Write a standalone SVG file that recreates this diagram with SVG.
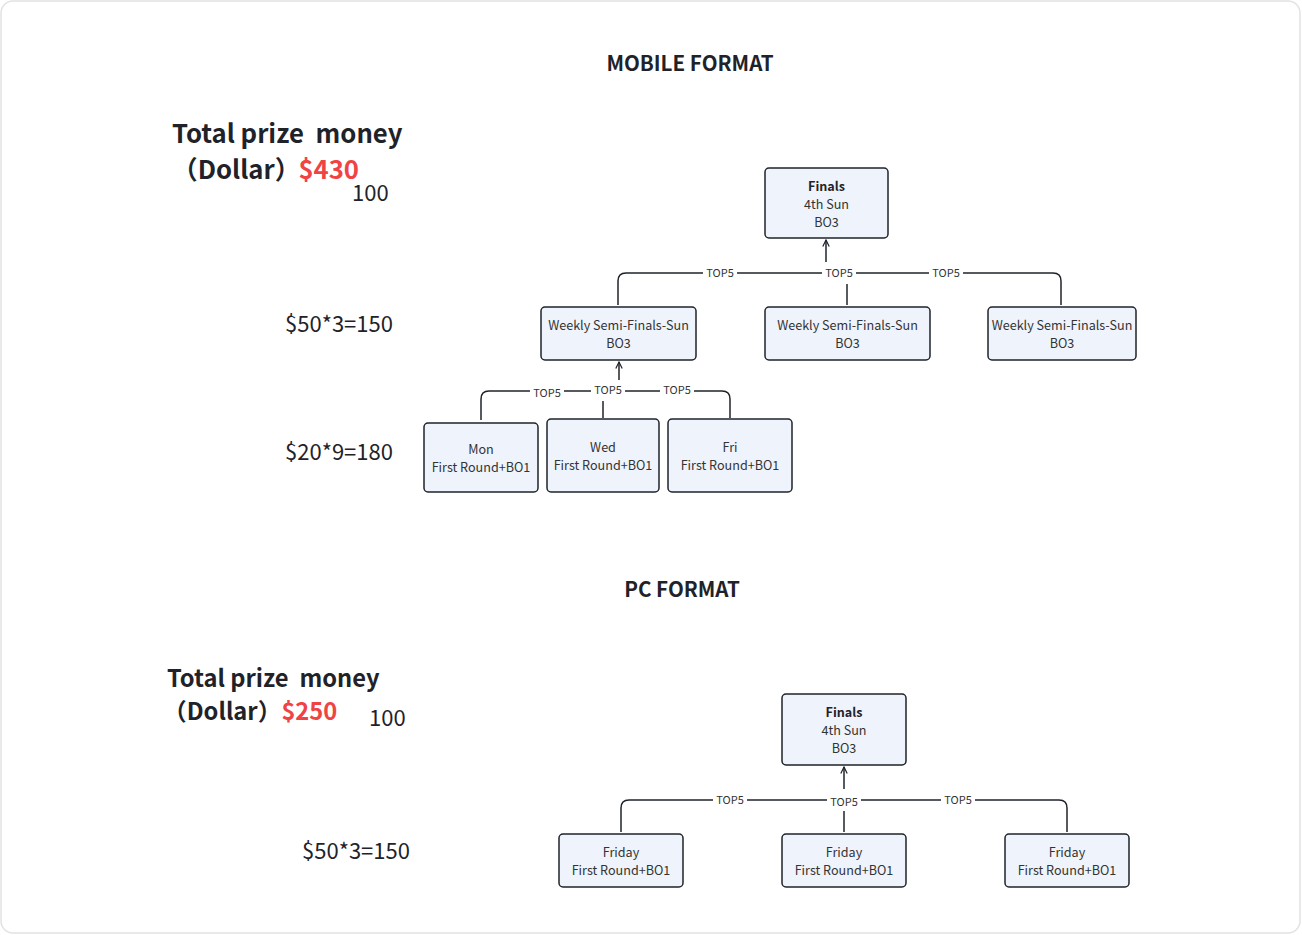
<svg xmlns="http://www.w3.org/2000/svg" width="1302" height="935" viewBox="0 0 1302 935">
<style>
  text { font-family: "Noto Sans CJK SC", "Noto Sans", sans-serif; fill: #1f2329; }
  .title { font-size: 20.6px; font-weight: bold; text-anchor: middle; }
  .big { font-weight: bold; white-space: pre; }
  .m { font-size: 25.7px; }
  .p { font-size: 23.7px; }
  .red { fill: #f04444; }
  .amt { font-size: 22px; }
  .node rect { fill: #eff3fc; stroke: #1f2329; stroke-width: 1.5; }
  .node text { font-size: 12.6px; text-anchor: middle; fill: #333; }
  .node .b { font-weight: bold; fill: #1f2329; }
  .conn path { fill: none; stroke: #1f2329; stroke-width: 1.5; }
  .lbl rect { fill: #ffffff; }
  .lbl text { font-size: 11px; text-anchor: middle; fill: #333; }
</style>
<defs>
  <marker id="arr" viewBox="0 0 10 10" refX="9" refY="5" markerWidth="8" markerHeight="8" orient="auto" markerUnits="userSpaceOnUse">
    <path d="M1,1 L9,5 L1,9" fill="none" stroke="#1f2329" stroke-width="1.5"/>
  </marker>
</defs>
<rect x="0" y="0" width="1302" height="935" fill="#ffffff"/>
<rect x="1" y="1" width="1299" height="932" rx="12" fill="#ffffff" stroke="#e2e2e2" stroke-width="1.5"/>

<!-- Mobile headers -->
<text class="title" x="690" y="71">MOBILE FORMAT</text>
<text class="big m" x="172" y="143" xml:space="preserve">Total prize  money</text>
<text class="big m" x="172" y="179">（Dollar）<tspan class="red" dx="-2">$430</tspan></text>
<text class="amt" x="352" y="201">100</text>
<text class="amt" x="285" y="332">$50*3=150</text>
<text class="amt" x="285" y="460">$20*9=180</text>

<!-- PC headers -->
<text class="title" x="682" y="597">PC FORMAT</text>
<text class="big p" x="167" y="687" xml:space="preserve">Total prize  money</text>
<text class="big p" x="163" y="720">（Dollar）<tspan class="red" dx="0">$250</tspan></text>
<text class="amt" x="369" y="726">100</text>
<text class="amt" x="302" y="859">$50*3=150</text>

<!-- Connectors -->
<g class="conn" id="connectors">
  <!-- mobile semis to finals -->
  <path d="M618,305 V281 Q618,273 626,273 H826"/>
  <path d="M1061,305 V281 Q1061,273 1053,273 H826"/>
  <path d="M847,305 V273"/>
  <path d="M826,273 V240" marker-end="url(#arr)"/>
  <!-- mobile rounds to semi 1 -->
  <path d="M481,420 V399 Q481,391 489,391 H619"/>
  <path d="M730,418 V399 Q730,391 722,391 H619"/>
  <path d="M603,418 V391"/>
  <path d="M619,391 V362" marker-end="url(#arr)"/>
  <!-- pc -->
  <path d="M621,832 V808 Q621,800 629,800 H844"/>
  <path d="M1067,832 V808 Q1067,800 1059,800 H844"/>
  <path d="M844,832 V800"/>
  <path d="M844,800 V767" marker-end="url(#arr)"/>
</g>

<!-- Labels -->
<g class="lbl" id="labels">
  <rect x="703" y="265" width="34" height="16"/><text x="720" y="277">TOP5</text>
  <rect x="822" y="262" width="34" height="22"/><text x="839" y="277">TOP5</text>
  <rect x="929" y="265" width="34" height="16"/><text x="946" y="277">TOP5</text>
  <rect x="530" y="384" width="34" height="16"/><text x="547" y="397">TOP5</text>
  <rect x="591" y="380" width="34" height="21"/><text x="608" y="394">TOP5</text>
  <rect x="660" y="383" width="34" height="16"/><text x="677" y="394">TOP5</text>
  <rect x="713" y="792" width="34" height="16"/><text x="730" y="804">TOP5</text>
  <rect x="827" y="789" width="34" height="22"/><text x="844" y="806">TOP5</text>
  <rect x="941" y="792" width="34" height="16"/><text x="958" y="804">TOP5</text>
</g>

<!-- Mobile nodes -->
<g class="node" id="m-finals">
  <rect x="765" y="168" width="123" height="70" rx="4"/>
  <text class="b" x="826.5" y="191">Finals</text>
  <text x="826.5" y="209">4th Sun</text>
  <text x="826.5" y="227">BO3</text>
</g>
<g class="node" id="m-semi1">
  <rect x="541" y="307" width="155" height="53" rx="4"/>
  <text x="618.5" y="330">Weekly Semi-Finals-Sun</text>
  <text x="618.5" y="348">BO3</text>
</g>
<g class="node" id="m-semi2">
  <rect x="765" y="307" width="165" height="53" rx="4"/>
  <text x="847.5" y="330">Weekly Semi-Finals-Sun</text>
  <text x="847.5" y="348">BO3</text>
</g>
<g class="node" id="m-semi3">
  <rect x="988" y="307" width="148" height="53" rx="4"/>
  <text x="1062" y="330">Weekly Semi-Finals-Sun</text>
  <text x="1062" y="348">BO3</text>
</g>
<g class="node" id="m-mon">
  <rect x="424" y="423" width="114" height="69" rx="4"/>
  <text x="481" y="454">Mon</text>
  <text x="481" y="472">First Round+BO1</text>
</g>
<g class="node" id="m-wed">
  <rect x="547" y="419" width="112" height="73" rx="4"/>
  <text x="603" y="452">Wed</text>
  <text x="603" y="470">First Round+BO1</text>
</g>
<g class="node" id="m-fri">
  <rect x="668" y="419" width="124" height="73" rx="4"/>
  <text x="730" y="452">Fri</text>
  <text x="730" y="470">First Round+BO1</text>
</g>

<!-- PC nodes -->
<g class="node" id="pc-finals">
  <rect x="782" y="694" width="124" height="71" rx="4"/>
  <text class="b" x="844" y="717">Finals</text>
  <text x="844" y="735">4th Sun</text>
  <text x="844" y="753">BO3</text>
</g>
<g class="node" id="pc-fri1">
  <rect x="559" y="834" width="124" height="53" rx="4"/>
  <text x="621" y="857">Friday</text>
  <text x="621" y="875">First Round+BO1</text>
</g>
<g class="node" id="pc-fri2">
  <rect x="782" y="834" width="124" height="53" rx="4"/>
  <text x="844" y="857">Friday</text>
  <text x="844" y="875">First Round+BO1</text>
</g>
<g class="node" id="pc-fri3">
  <rect x="1005" y="834" width="124" height="53" rx="4"/>
  <text x="1067" y="857">Friday</text>
  <text x="1067" y="875">First Round+BO1</text>
</g>
</svg>
